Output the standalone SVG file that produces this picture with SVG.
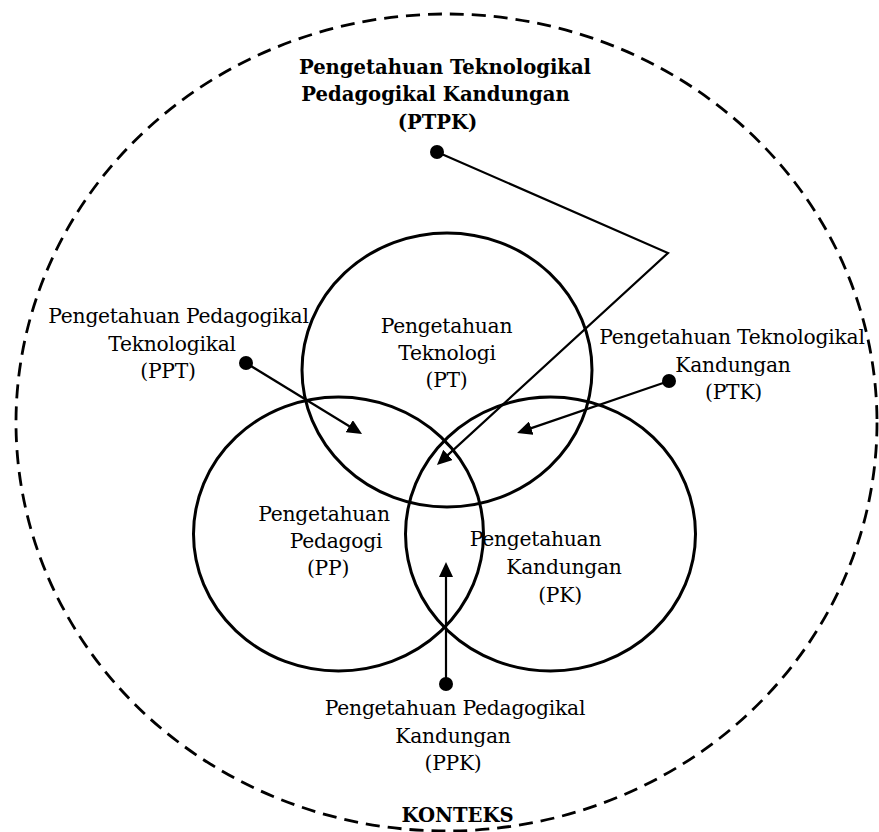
<svg xmlns="http://www.w3.org/2000/svg" width="879" height="832" viewBox="0 0 879 832">
<defs>
<style>
.t{font-family:"DejaVu Serif","Liberation Serif",serif;font-size:20.3px;letter-spacing:-0.25px;fill:#000;text-anchor:middle}
.b{font-family:"DejaVu Serif","Liberation Serif",serif;font-size:19.6px;font-weight:bold;fill:#000;text-anchor:middle}
.c{fill:none;stroke:#000;stroke-width:3}
.ln{fill:none;stroke:#000;stroke-width:2.2}
.dot{fill:#000}
</style>
<marker id="ah" viewBox="0 0 15 14" refX="3" refY="7" markerWidth="15" markerHeight="14" orient="auto" markerUnits="userSpaceOnUse">
<path d="M0,0 L15,7 L0,14 z" fill="#000"/>
</marker>
</defs>
<rect width="879" height="832" fill="#fff"/>
<g id="konteks">
<ellipse cx="446.5" cy="422.5" rx="430.5" ry="408.5" fill="none" stroke="#000" stroke-width="2.8" stroke-dasharray="14 8"/>
<text class="b" x="457.5" y="822">KONTEKS</text>
</g>
<g id="pt">
<ellipse class="c" cx="447" cy="370" rx="145" ry="137"/>
<text class="t" x="446.5" y="333">Pengetahuan</text>
<text class="t" x="447" y="360">Teknologi</text>
<text class="t" x="446.5" y="387">(PT)</text>
</g>
<g id="pp">
<ellipse class="c" cx="338.5" cy="534" rx="145" ry="137"/>
<text class="t" x="324" y="521">Pengetahuan</text>
<text class="t" x="336" y="548">Pedagogi</text>
<text class="t" x="328" y="575">(PP)</text>
</g>
<g id="pk">
<ellipse class="c" cx="550.5" cy="534" rx="145" ry="137"/>
<text class="t" x="535.5" y="546">Pengetahuan</text>
<text class="t" x="564" y="574">Kandungan</text>
<text class="t" x="560" y="602">(PK)</text>
</g>
<g id="ptpk">
<text class="b" x="445" y="73.5">Pengetahuan Teknologikal</text>
<text class="b" x="435.5" y="101">Pedagogikal Kandungan</text>
<text class="b" x="437.5" y="128.5">(PTPK)</text>
</g>
<g id="ppt">
<text class="t" x="178.5" y="323">Pengetahuan Pedagogikal</text>
<text class="t" x="172" y="351">Teknologikal</text>
<text class="t" x="168" y="378">(PPT)</text>
</g>
<g id="ptk">
<text class="t" x="732" y="344">Pengetahuan Teknologikal</text>
<text class="t" x="733" y="372">Kandungan</text>
<text class="t" x="733.5" y="399">(PTK)</text>
</g>
<g id="ppk">
<text class="t" x="455" y="715">Pengetahuan Pedagogikal</text>
<text class="t" x="453" y="743">Kandungan</text>
<text class="t" x="453" y="770">(PPK)</text>
</g>
<g id="connectors">
<polyline class="ln" points="437,152 668,253 445.8,456.9" marker-end="url(#ah)"/>
<line class="ln" x1="246" y1="363" x2="351.8" y2="427.7" marker-end="url(#ah)"/>
<line class="ln" x1="669" y1="381" x2="528.4" y2="429.1" marker-end="url(#ah)"/>
<line class="ln" x1="446" y1="684" x2="446" y2="574" marker-end="url(#ah)"/>
<circle class="dot" cx="437" cy="152" r="7"/>
<circle class="dot" cx="246" cy="363" r="7"/>
<circle class="dot" cx="669" cy="381" r="7"/>
<circle class="dot" cx="446" cy="684" r="7"/>
</g>
</svg>
